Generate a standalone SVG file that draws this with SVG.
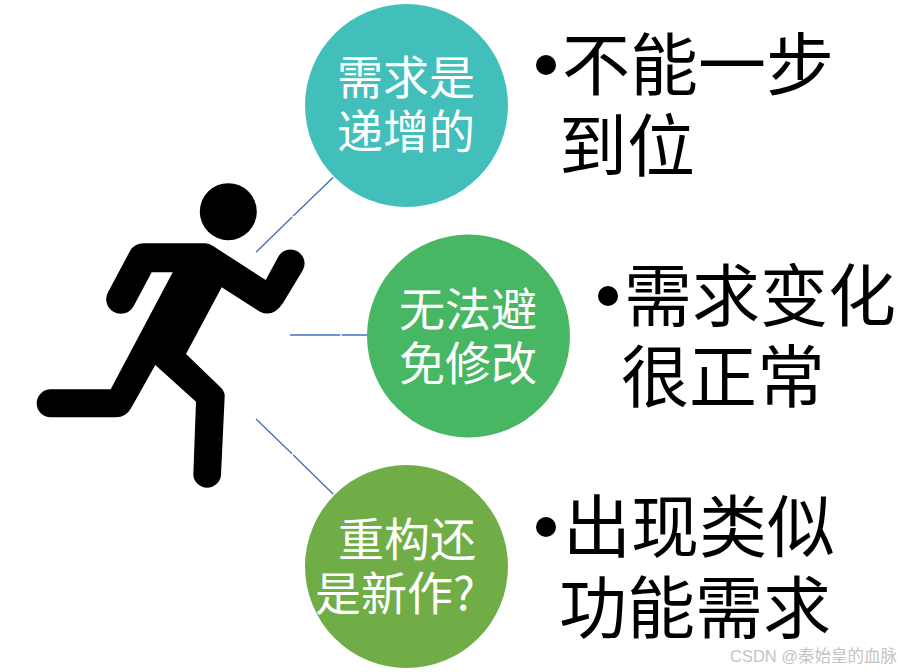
<svg xmlns="http://www.w3.org/2000/svg" width="898" height="672" viewBox="0 0 898 672">
<style>
text{font-family:"Noto Sans CJK SC","Liberation Sans",sans-serif}
.c{font-size:46px;fill:#fff}
.b{font-size:68px;fill:#000}
.l{stroke:#4472c4;stroke-width:1.400;fill:none}
</style>
<rect width="898" height="672" fill="#fff"/>
<g id="connectors">
<path class="l" d="M333.300 177.300L293.200 216M292.200 217L256 252.300"/>
<path class="l" d="M290 335H340.500M341.800 335H367"/>
<path class="l" d="M256 419L292 453.800M293 454.800L333.300 494.300"/>
</g>
<g id="runner">
<circle cx="228.300" cy="211.700" r="28.500"/>
<path d="M143.500 243.300H205Q209.500 243.300 213 246L265.700 280L278.300 256.700A14 14 0 0 1 302.800 270.300L283 303Q273 318 260 311.700L221.700 287.300L186 354L220 386.700Q224.700 391 224.700 396L221 475A13.900 13.900 0 0 1 193.300 475L196 401.700L155.300 365L131 408.300Q126 417.300 116 417.300H50.700A14 14 0 0 1 50.700 389.300H110.700L172.700 272.300H151.700L133.300 306.700A14 14 0 0 1 108.300 291.700L130 251Q134.500 243.300 143.500 243.300Z"/>
</g>
<g id="node1"><circle cx="406.500" cy="105.500" r="101.500" fill="#43bfbb"/><text class="c" x="337" y="94">需求是</text><text class="c" x="337" y="148">递增的</text></g>
<g id="node2"><circle cx="468.500" cy="336" r="101.500" fill="#48b763"/><text class="c" x="399" y="326">无法避</text><text class="c" x="399" y="380">免修改</text></g>
<g id="node3"><circle cx="406.500" cy="566.500" r="101.500" fill="#70ad47"/><text class="c" x="338" y="556">重构还</text><text class="c" x="315" y="610">是新作?</text></g>
<g id="bullet1"><circle cx="546" cy="65" r="10"/><text class="b" x="562" y="90">不能一步</text><text class="b" x="559" y="171">到位</text></g>
<g id="bullet2"><circle cx="608" cy="296" r="10"/><text class="b" x="624" y="321">需求变化</text><text class="b" x="621" y="402">很正常</text></g>
<g id="bullet3"><circle cx="546" cy="527" r="10"/><text class="b" x="563" y="552">出现类似</text><text class="b" x="559" y="633">功能需求</text></g>
<text x="730" y="662" font-size="16.500" fill="#c4c4c4" style="font-family:'Liberation Sans','Noto Sans CJK SC',sans-serif">CSDN @秦始皇的血脉</text>
</svg>
